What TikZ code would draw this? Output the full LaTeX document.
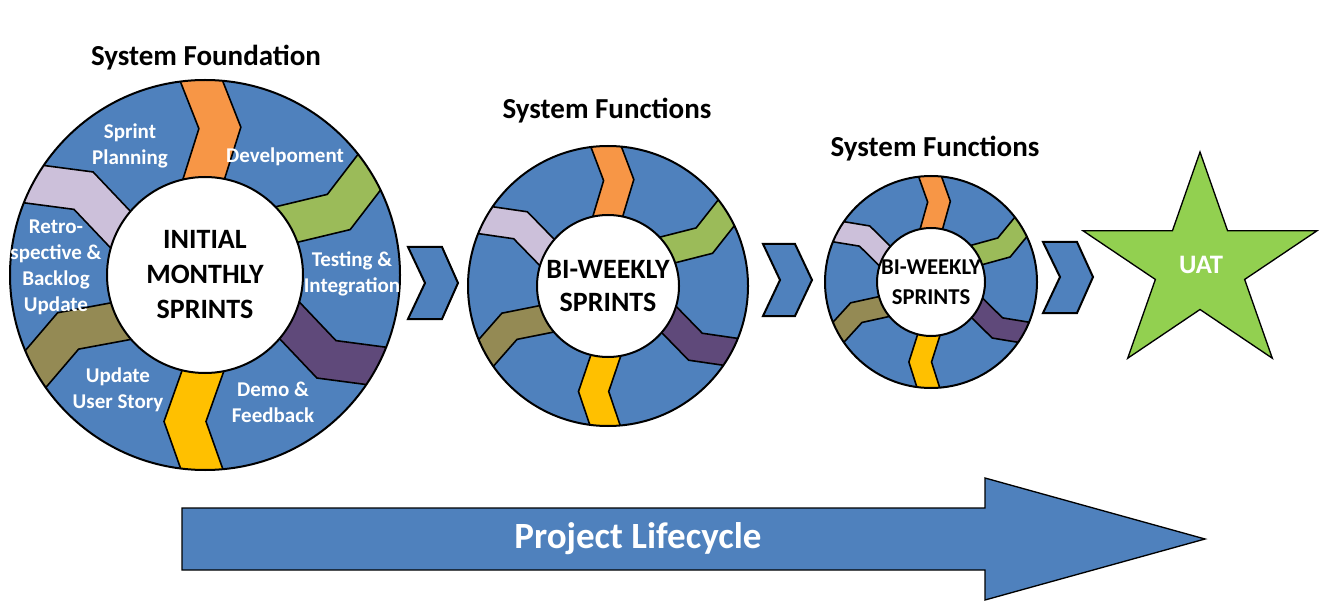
\documentclass[tikz,border=0pt]{standalone}
\usepackage{fontspec}
\setmainfont{Carlito}
\usetikzlibrary{shapes.geometric}
\definecolor{ringblue}{HTML}{4F81BD}
\definecolor{chorange}{HTML}{F79646}
\definecolor{chgreen}{HTML}{9BBB59}
\definecolor{chpurple}{HTML}{5F497A}
\definecolor{chyellow}{HTML}{FFC000}
\definecolor{cholive}{HTML}{948A54}
\definecolor{chlav}{HTML}{CCC0DA}
\definecolor{stargreen}{HTML}{92D050}
% #1 angle, #2 colour, #3 inner radius, #4 outer radius, #5 scale
\newcommand{\ringchev}[5]{%
  \filldraw[fill=#2, draw=black, line width=1.2pt, line join=miter, rotate={#1-90}]
    ({-21*#5},{#3-8}) -- ({-21*#5+20*#5},{(#3+#4)/2}) -- ({-21*#5},{#4+8}) --
    ({21*#5},{#4+8}) -- ({21*#5+20*#5},{(#3+#4)/2}) -- ({21*#5},{#3-8}) -- cycle;
}
% #1 inner radius, #2 outer radius, #3 scale
\newcommand{\ringset}[3]{%
  \fill[ringblue] (0,0) circle[radius=#2];
  \begin{scope}
    \clip (0,0) circle[radius=#2];
    \ringchev{92}{chorange}{#1}{#2}{#3}
    \ringchev{33}{chgreen}{#1}{#2}{#3}
    \ringchev{-27}{chpurple}{#1}{#2}{#3}
    \ringchev{-90}{chyellow}{#1}{#2}{#3}
    \ringchev{-150}{cholive}{#1}{#2}{#3}
    \ringchev{153}{chlav}{#1}{#2}{#3}
  \end{scope}
  \draw[line width=1.5pt] (0,0) circle[radius=#2];
}
\tikzset{
  hub/.style={circle, draw=black, fill=white, line width=1.5pt, inner sep=0pt},
  hubtext/.style={align=center, text=black, font=\bfseries\fontsize{21}{26}\selectfont},
  steptext/.style={align=center, text=white, font=\bfseries\fontsize{15.75}{19.5}\selectfont},
  titletext/.style={text=black, font=\bfseries\fontsize{21.75}{26}\selectfont},
  flowchev/.style={fill=ringblue, draw=black, line width=1.5pt, line join=miter},
}
\begin{document}
\begin{tikzpicture}[x=0.75pt,y=0.75pt]
\useasboundingbox (0,0) rectangle (1330,604);

% ---- circle 1
\begin{scope}[shift={(205,329)}]
  \ringset{98}{195}{1}
  \node[hub, minimum size=147pt] (hub1) at (0,0) {};
\end{scope}
\node[hubtext, font=\bfseries\fontsize{21}{26.25}\selectfont] (hubt1) at (hub1) {INITIAL\\MONTHLY\\SPRINTS};
\node[steptext] (plan) at (130,458) {Sprint\\Planning};
\node[steptext] (dev) at (285,447) {Develpoment};
\node[steptext] (test) at (352,330) {Testing \&\\Integration};
\node[steptext] (demo) at (273,202) {Demo \&\\Feedback};
\node[steptext] (story) at (118,214) {Update\\User Story};
\node[steptext] (retro) at (56,337) {Retro-\\spective \&\\Backlog\\Update};
\node[titletext] (title1) at (206,546) {System Foundation};

% ---- circle 2
\begin{scope}[shift={(608,318)}]
  \ringset{71}{140}{0.72}
  \node[hub, minimum size=106.5pt] (hub2) at (0,0) {};
\end{scope}
\node[hubtext, font=\bfseries\fontsize{21}{24.75}\selectfont] (hubt2) at (hub2) {BI-WEEKLY\\SPRINTS};
\node[titletext] (title2) at (607,493) {System Functions};

% ---- circle 3
\begin{scope}[shift={(931,322)}]
  \ringset{54}{106}{0.54}
  \node[hub, minimum size=81pt] (hub3) at (0,0) {};
\end{scope}
\node[hubtext, font=\bfseries\fontsize{17}{22.5}\selectfont] (hubt3) at (hub3) {BI-WEEKLY\\SPRINTS};
\node[titletext] (title3) at (935,455) {System Functions};

% ---- flow chevrons
\filldraw[flowchev] (408,357) -- (442,357) -- (458,321) -- (442,285) -- (408,285) -- (425,321) -- cycle;
\filldraw[flowchev] (763,360) -- (795,360) -- (812,324) -- (795,288) -- (763,288) -- (780,324) -- cycle;
\filldraw[flowchev] (1043,362) -- (1077,362) -- (1093,327) -- (1077,291) -- (1043,291) -- (1060,327) -- cycle;

% ---- star
\begin{scope}[shift={(1200,338)}, xscale=1.079]
  \filldraw[fill=stargreen, draw=black, line width=1pt, line join=miter]
    (90:114) -- (126:43.5) -- (162:114) -- (198:43.5) -- (234:114) -- (270:43.5) --
    (306:114) -- (342:43.5) -- (18:114) -- (54:43.5) -- cycle;
\end{scope}
\node[text=white, font=\bfseries\fontsize{20}{24}\selectfont] (uat) at (1201,339) {UAT};

% ---- project lifecycle arrow
\filldraw[fill=ringblue, draw=black, line width=1pt, line join=miter]
  (182,34) -- (985,34) -- (985,4) -- (1205,65) -- (985,126) -- (985,96) -- (182,96) -- cycle;
\node[text=white, font=\bfseries\fontsize{27.75}{32}\selectfont] (life) at (638,65) {Project Lifecycle};
\end{tikzpicture}
\end{document}
